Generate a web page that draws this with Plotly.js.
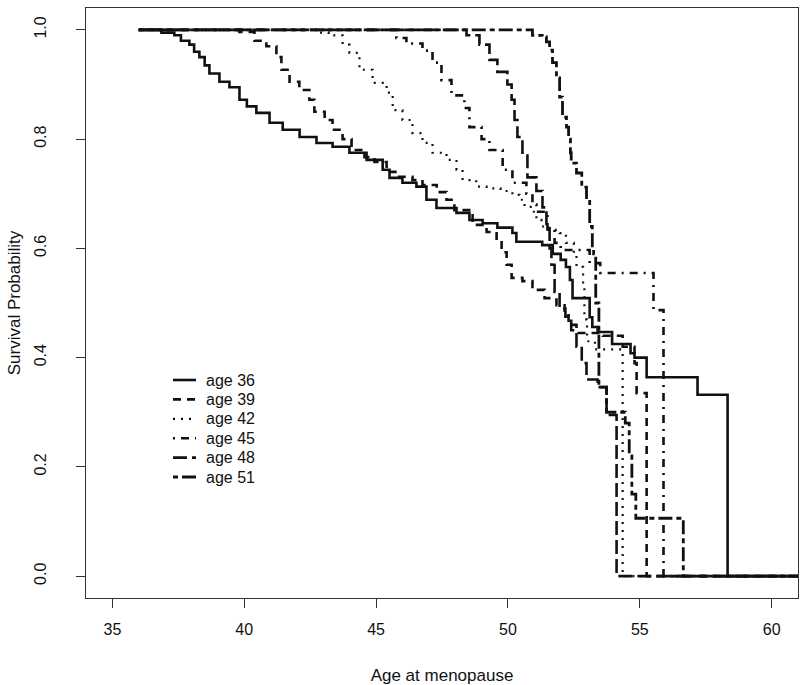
<!DOCTYPE html>
<html>
<head>
<meta charset="utf-8">
<script src="https://cdn.plot.ly/plotly-3.0.1.min.js"></script>
<style>
  html, body { margin: 0; padding: 0; background: #fff; }
  #chart { width: 800px; height: 685px; }
</style>
</head>
<body>
<div id="chart"></div>
<script>
// Kaplan-Meier style curves, survival by age at menopause
const age36X = [36, 36.86, 37.35, 37.6, 37.92, 38.1, 38.3, 38.5, 38.68, 39.06, 39.44, 39.82, 40.1, 40.46, 40.96, 41.46, 42.1, 42.74, 43.35, 43.99, 44.64, 45.25, 45.51, 46.0, 46.53, 46.91, 47.29, 48.05, 48.54, 49.04, 49.6, 50.17, 50.32, 51.3, 51.7, 52.0, 52.2, 52.35, 52.45, 53.1, 53.2, 53.4, 53.95, 54.65, 54.8, 55.26, 57.19, 58.33, 61.5];
const age36Y = [1, 0.995, 0.99, 0.98, 0.973, 0.96, 0.95, 0.935, 0.92, 0.905, 0.895, 0.872, 0.86, 0.848, 0.83, 0.817, 0.804, 0.793, 0.786, 0.775, 0.762, 0.744, 0.729, 0.72, 0.713, 0.689, 0.674, 0.665, 0.652, 0.646, 0.638, 0.628, 0.612, 0.606, 0.59, 0.579, 0.566, 0.542, 0.509, 0.474, 0.456, 0.447, 0.425, 0.408, 0.4, 0.364, 0.332, 0, 0];

const age39X = [36, 39.82, 40.39, 40.84, 41.22, 41.41, 41.72, 42.09, 42.47, 42.66, 43.05, 43.35, 43.73, 44.07, 44.56, 44.94, 45.4, 45.82, 46.38, 46.76, 47.3, 47.67, 47.97, 48.66, 49.19, 49.57, 49.76, 49.95, 50.14, 50.55, 50.93, 51.39, 51.84, 52.15, 52.3, 52.6, 53.6, 54.35, 54.8, 54.88, 55.26, 61.5];
const age39Y = [1, 0.996, 0.98, 0.97, 0.95, 0.927, 0.905, 0.89, 0.872, 0.85, 0.835, 0.817, 0.8, 0.78, 0.767, 0.758, 0.74, 0.731, 0.725, 0.716, 0.703, 0.689, 0.67, 0.643, 0.63, 0.615, 0.593, 0.57, 0.546, 0.54, 0.524, 0.509, 0.496, 0.482, 0.46, 0.445, 0.44, 0.42, 0.39, 0.335, 0, 0];

const age42X = [36, 42.85, 43.2, 43.73, 43.99, 44.37, 44.87, 45.4, 45.63, 46.0, 46.38, 46.76, 47.14, 47.67, 48.05, 48.28, 48.8, 49.19, 49.72, 50.17, 50.44, 50.63, 50.93, 51.08, 51.27, 51.5, 51.96, 52.2, 52.5, 52.6, 52.85, 52.9, 53.0, 53.3, 54.35, 61.5];
const age42Y = [1, 0.995, 0.99, 0.973, 0.958, 0.927, 0.903, 0.885, 0.853, 0.835, 0.811, 0.793, 0.775, 0.762, 0.744, 0.725, 0.713, 0.71, 0.705, 0.698, 0.689, 0.676, 0.667, 0.652, 0.64, 0.634, 0.628, 0.61, 0.59, 0.566, 0.53, 0.47, 0.43, 0.415, 0, 0];

const age45X = [36, 45.77, 46.15, 46.76, 47.14, 47.48, 47.86, 48.35, 48.54, 49.0, 49.3, 49.8, 50.17, 50.7, 50.93, 51.08, 51.5, 51.77, 52.0, 53.1, 53.5, 55.52, 55.9, 61.5];
const age45Y = [1, 0.985, 0.975, 0.962, 0.94, 0.908, 0.88, 0.857, 0.822, 0.8, 0.78, 0.744, 0.72, 0.7, 0.68, 0.667, 0.637, 0.61, 0.597, 0.573, 0.555, 0.487, 0, 0];

const age48X = [36, 48.43, 48.92, 49.3, 49.6, 49.98, 50.14, 50.25, 50.36, 50.55, 50.74, 51.08, 51.31, 51.46, 51.58, 51.65, 51.77, 51.96, 52.18, 52.4, 52.6, 52.8, 52.98, 53.4, 53.74, 54.12, 61.5];
const age48Y = [1, 0.99, 0.973, 0.945, 0.923, 0.9, 0.872, 0.835, 0.804, 0.775, 0.73, 0.705, 0.675, 0.64, 0.6, 0.57, 0.52, 0.49, 0.475, 0.45, 0.42, 0.39, 0.36, 0.346, 0.295, 0, 0];

const age51X = [36, 50.93, 51.3, 51.46, 51.58, 51.69, 51.84, 51.96, 52.07, 52.22, 52.3, 52.37, 52.4, 52.6, 52.8, 52.98, 53.1, 53.2, 53.25, 53.33, 53.45, 53.74, 54.45, 54.6, 54.7, 54.85, 56.65, 61.5];
const age51Y = [1, 0.99, 0.987, 0.978, 0.963, 0.94, 0.912, 0.877, 0.84, 0.822, 0.8, 0.775, 0.756, 0.738, 0.712, 0.69, 0.64, 0.6, 0.59, 0.5, 0.346, 0.3, 0.28, 0.22, 0.15, 0.106, 0, 0];

const seriesNames = ['age 36', 'age 39', 'age 42', 'age 45', 'age 48', 'age 51'];
const xTicks = [35, 40, 45, 50, 55, 60];
const yTicks = [0, 0.2, 0.4, 0.6, 0.8, 1.0];

const FONT = 'Liberation Sans, Arial, sans-serif';
const INK = '#111';

// R line types: solid, dashed, dotted, dotdash, longdash, twodash
const dashes = ['solid', '8px,6px', '2px,6px', '2px,6px,8px,6px', '14px,5px', '5px,4px,14px,4px'];
const widths = [2.6, 2.6, 2.2, 2.6, 2.6, 2.8];
const xs = [age36X, age39X, age42X, age45X, age48X, age51X];
const ys = [age36Y, age39Y, age42Y, age45Y, age48Y, age51Y];

const traces = seriesNames.map((name, i) => ({
  x: xs[i],
  y: ys[i],
  type: 'scatter',
  mode: 'lines',
  name: name,
  showlegend: false,
  line: { shape: 'hv', color: INK, width: widths[i], dash: dashes[i] },
  hoverinfo: 'skip'
}));

// legend drawn by hand, R style (tight rows, short samples)
const legTop = 380, legStep = 19.4;          // px, row centres
const toPy = py => 1 - (py - 8) / 590;        // plot area: top 8, height 590
const toPx = px => (px - 86) / 712;           // plot area: left 86, width 712
const legShapes = seriesNames.map((_, i) => ({
  type: 'line', xref: 'paper', yref: 'paper',
  x0: toPx(173), x1: toPx(196),
  y0: toPy(legTop + i * legStep), y1: toPy(legTop + i * legStep),
  line: { color: INK, width: widths[i], dash: dashes[i] }
}));
const legLabels = seriesNames.map((name, i) => ({
  text: name, xref: 'paper', yref: 'paper',
  x: toPx(204), y: toPy(legTop + i * legStep),
  xanchor: 'left', yanchor: 'middle', showarrow: false,
  font: { family: FONT, size: 16, color: INK }
}));

const layout = {
  width: 800,
  height: 685,
  margin: { l: 86, r: 2, t: 8, b: 87 },
  paper_bgcolor: '#fff',
  plot_bgcolor: '#fff',
  font: { family: FONT, size: 16, color: INK },
  showlegend: false,
  shapes: legShapes,
  annotations: legLabels,
  xaxis: {
    range: [34, 61],
    tickvals: xTicks,
    ticktext: xTicks.map(String),
    ticks: 'outside', ticklen: 9, tickwidth: 1, tickcolor: '#333',
    ticklabelstandoff: 8,
    tickfont: { family: FONT, size: 16, color: INK },
    showgrid: false, zeroline: false,
    showline: true, linecolor: '#333', linewidth: 1, mirror: true,
    title: { text: 'Age at menopause', font: { family: FONT, size: 17, color: INK }, standoff: 35 }
  },
  yaxis: {
    range: [-0.04, 1.04],
    tickvals: yTicks,
    ticktext: yTicks.map(v => v.toFixed(1)),
    tickangle: -90,
    ticks: 'outside', ticklen: 9, tickwidth: 1, tickcolor: '#333',
    ticklabelstandoff: 24,
    tickfont: { family: FONT, size: 16, color: INK },
    showgrid: false, zeroline: false,
    showline: true, linecolor: '#333', linewidth: 1, mirror: true,
    title: { text: 'Survival Probability', font: { family: FONT, size: 17, color: INK }, standoff: 6 }
  }
};

Plotly.newPlot('chart', traces, layout, { displayModeBar: false, staticPlot: true });
</script>
</body>
</html>
